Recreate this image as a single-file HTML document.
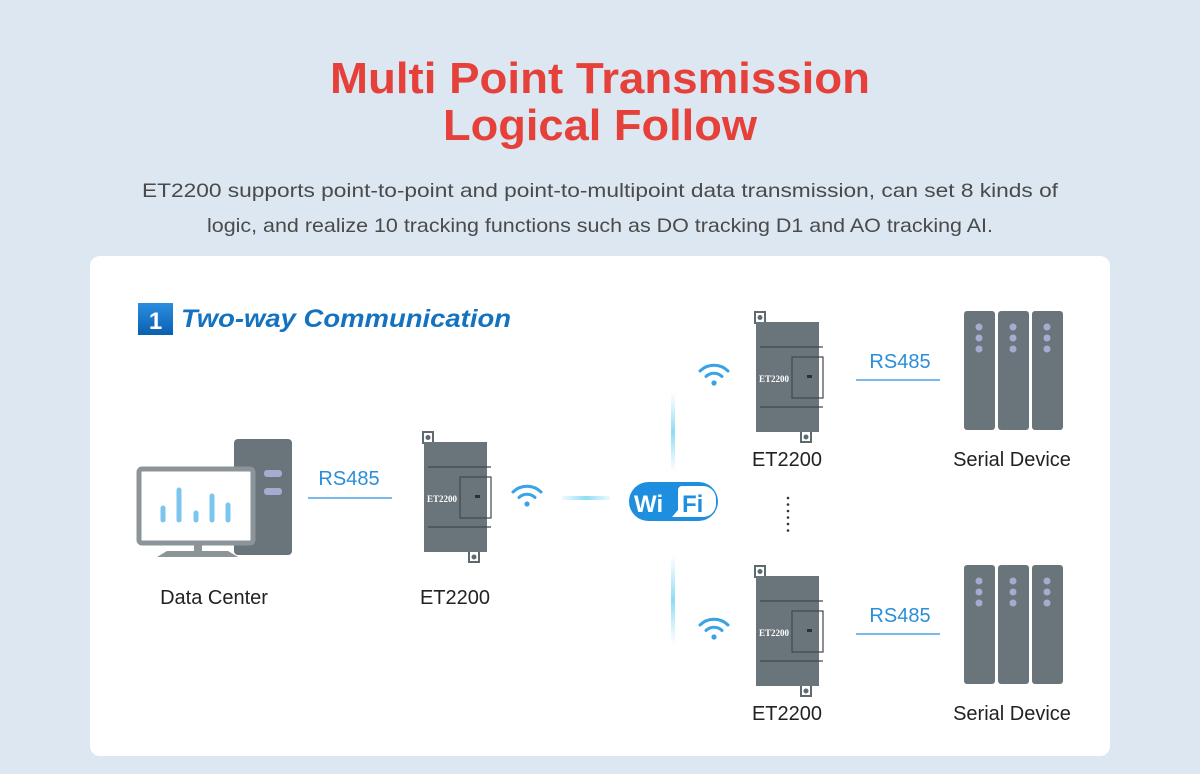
<!DOCTYPE html>
<html><head><meta charset="utf-8"><style>
html,body{margin:0;padding:0;background:#dce7f2;}
svg{display:block;font-family:"Liberation Sans",sans-serif;}
</style></head><body>
<svg width="1200" height="774" viewBox="0 0 1200 774" xmlns="http://www.w3.org/2000/svg">
<defs>
<g id="dev">
  <rect x="-5" y="-10" width="10" height="11" fill="#fff" stroke="#5f6a70" stroke-width="2"/>
  <circle cx="0" cy="-4.5" r="2.5" fill="#5f6a70"/>
  <rect x="41" y="109" width="10" height="11" fill="#fff" stroke="#5f6a70" stroke-width="2"/>
  <circle cx="46" cy="115" r="2.5" fill="#5f6a70"/>
  <rect x="-4" y="0" width="63" height="110" fill="#6a757b"/>
  <path d="M0 25 H63 M0 85 H63" stroke="#3f484d" stroke-width="1.2"/>
  <rect x="32" y="35" width="31" height="41" fill="none" stroke="#3f484d" stroke-width="1.2"/>
  <text x="-1" y="60" font-family="Liberation Serif,serif" font-weight="bold" font-size="9" fill="#fff">ET2200</text>
  <rect x="47" y="53" width="5" height="3" fill="#2b3236"/>
</g>
<g id="wf">
  <path d="M-14 -4 A20 20 0 0 1 14 -4" fill="none" stroke="#3aa2e6" stroke-width="3" stroke-linecap="round"/>
  <path d="M-8 1.5 A11.5 11.5 0 0 1 8 1.5" fill="none" stroke="#3aa2e6" stroke-width="3" stroke-linecap="round"/>
  <circle cx="0" cy="8" r="2.6" fill="#3aa2e6"/>
</g>
<g id="ser">
  <rect x="0" y="0" width="31" height="119" rx="3" fill="#6a757b"/>
  <rect x="34" y="0" width="31" height="119" rx="3" fill="#6a757b"/>
  <rect x="68" y="0" width="31" height="119" rx="3" fill="#6a757b"/>
  <g fill="#a7abd0"><circle cx="15" cy="16" r="3.5"/><circle cx="15" cy="27" r="3.5"/><circle cx="15" cy="38" r="3.5"/>
  <circle cx="49" cy="16" r="3.5"/><circle cx="49" cy="27" r="3.5"/><circle cx="49" cy="38" r="3.5"/>
  <circle cx="83" cy="16" r="3.5"/><circle cx="83" cy="27" r="3.5"/><circle cx="83" cy="38" r="3.5"/></g>
</g>
<linearGradient id="gv" x1="0" y1="0" x2="0" y2="1"><stop offset="0" stop-color="#9fe3f7" stop-opacity="0"/><stop offset=".5" stop-color="#8ddcf5"/><stop offset="1" stop-color="#9fe3f7" stop-opacity="0"/></linearGradient>
<linearGradient id="gh" x1="0" y1="0" x2="1" y2="0"><stop offset="0" stop-color="#9fe3f7" stop-opacity="0.2"/><stop offset=".5" stop-color="#8ddcf5"/><stop offset="1" stop-color="#9fe3f7" stop-opacity="0.2"/></linearGradient>
<linearGradient id="gb" x1="0" y1="0" x2="0" y2="1"><stop offset="0" stop-color="#2b8ee0"/><stop offset="1" stop-color="#0a5fb0"/></linearGradient>
</defs>

<text x="600" y="93" text-anchor="middle" font-size="44" font-weight="bold" fill="#e5413a" textLength="540" lengthAdjust="spacingAndGlyphs">Multi Point Transmission</text>
<text x="600" y="140" text-anchor="middle" font-size="44" font-weight="bold" fill="#e5413a" textLength="314" lengthAdjust="spacingAndGlyphs">Logical Follow</text>
<text x="142" y="197" font-size="19.5" fill="#4a4a4a" textLength="916" lengthAdjust="spacingAndGlyphs">ET2200 supports point-to-point and point-to-multipoint data transmission, can set 8 kinds of</text>
<text x="207" y="232" font-size="19.5" fill="#4a4a4a" textLength="786" lengthAdjust="spacingAndGlyphs">logic, and realize 10 tracking functions such as DO tracking D1 and AO tracking AI.</text>

<rect x="90" y="256" width="1020" height="500" rx="10" fill="#fff"/>

<rect x="138" y="303" width="35" height="32" fill="url(#gb)"/>
<text x="155.5" y="329" text-anchor="middle" font-size="24" font-weight="bold" fill="#fff">1</text>
<text x="181" y="327" font-size="25" font-style="italic" font-weight="bold" fill="#1473c1" textLength="330" lengthAdjust="spacingAndGlyphs">Two-way Communication</text>

<!-- computer -->
<rect x="234" y="439" width="58" height="116" rx="4" fill="#6a757b"/>
<rect x="264" y="470" width="18" height="7" rx="3" fill="#a7abd0"/>
<rect x="264" y="488" width="18" height="7" rx="3" fill="#a7abd0"/>
<rect x="139" y="469" width="114" height="74" rx="3" fill="#fff" stroke="#8a9499" stroke-width="5"/>
<rect x="194" y="545" width="8" height="7" fill="#8a9499"/>
<path d="M157 557 L167 551 H228 L238 557 Z" fill="#8a9499"/>
<g stroke="#7cc5ef" stroke-width="5" stroke-linecap="round">
<line x1="163" y1="508" x2="163" y2="520"/><line x1="179" y1="490" x2="179" y2="520"/><line x1="196" y1="513" x2="196" y2="520"/><line x1="212" y1="496" x2="212" y2="520"/><line x1="228" y1="505" x2="228" y2="520"/></g>
<text x="214" y="604" text-anchor="middle" font-size="20" fill="#222">Data Center</text>

<text x="349" y="485" text-anchor="middle" font-size="20" fill="#2a8fd9">RS485</text>
<line x1="308" y1="498" x2="392" y2="498" stroke="#2a8fd9" stroke-width="1.3"/>

<use href="#dev" x="428" y="442"/>
<text x="455" y="604" text-anchor="middle" font-size="20" fill="#222">ET2200</text>
<use href="#wf" x="527" y="496"/>
<rect x="562" y="496" width="48" height="4" fill="url(#gh)"/>
<rect x="671" y="392" width="4" height="80" fill="url(#gv)"/>
<rect x="671" y="555" width="4" height="90" fill="url(#gv)"/>

<!-- WiFi logo -->
<rect x="629" y="482" width="89" height="39" rx="19.5" fill="#1e8fde"/>
<path d="M682 486 H703 A13 13 0 0 1 716 499 V504 A13 13 0 0 1 703 517 H672 L678 510 V490 A4 4 0 0 1 682 486 Z" fill="#fff"/>
<text x="634" y="512" font-size="24" font-weight="bold" fill="#fff">Wi</text>
<text x="682" y="512" font-size="24" font-weight="bold" fill="#1e8fde">Fi</text>

<g fill="#333"><circle cx="788" cy="498" r="1.3"/><circle cx="788" cy="504.5" r="1.3"/><circle cx="788" cy="511" r="1.3"/><circle cx="788" cy="517.5" r="1.3"/><circle cx="788" cy="524" r="1.3"/><circle cx="788" cy="530.5" r="1.3"/></g>

<use href="#wf" x="714" y="375"/>
<use href="#dev" x="760" y="322"/>
<text x="787" y="466" text-anchor="middle" font-size="20" fill="#222">ET2200</text>
<text x="900" y="368" text-anchor="middle" font-size="20" fill="#2a8fd9">RS485</text>
<line x1="856" y1="380" x2="940" y2="380" stroke="#2a8fd9" stroke-width="1.3"/>
<use href="#ser" x="964" y="311"/>
<text x="1012" y="466" text-anchor="middle" font-size="20" fill="#222">Serial Device</text>

<use href="#wf" x="714" y="629"/>
<use href="#dev" x="760" y="576"/>
<text x="787" y="720" text-anchor="middle" font-size="20" fill="#222">ET2200</text>
<text x="900" y="622" text-anchor="middle" font-size="20" fill="#2a8fd9">RS485</text>
<line x1="856" y1="634" x2="940" y2="634" stroke="#2a8fd9" stroke-width="1.3"/>
<use href="#ser" x="964" y="565"/>
<text x="1012" y="720" text-anchor="middle" font-size="20" fill="#222">Serial Device</text>
</svg>
</body></html>
